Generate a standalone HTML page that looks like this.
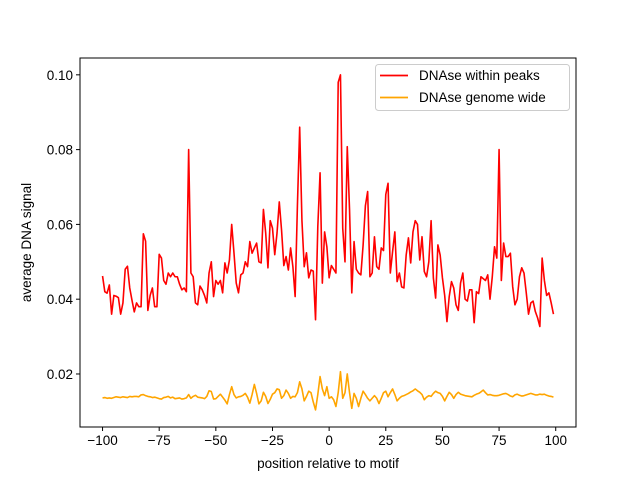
<!DOCTYPE html>
<html><head><meta charset="utf-8"><style>
body{margin:0;background:#fff}
svg{display:block;font-family:"Liberation Sans","DejaVu Sans",sans-serif}
</style></head><body>
<svg id="chart" width="640" height="480" viewBox="0 0 640 480">
<rect width="640" height="480" fill="#fff"/>
<g id="plot"></g>
<g id="axes"></g>
<rect x="80" y="58" width="496" height="369" fill="none" stroke="#000" stroke-width="1"/>
<text x="328" y="468" font-size="13.5" text-anchor="middle">position relative to motif</text>
<text transform="translate(31,242.5) rotate(-90)" font-size="13.5" text-anchor="middle">average DNA signal</text>
<g>
<rect x="375.5" y="64.5" width="194" height="46" rx="3" fill="#fff" fill-opacity="0.8" stroke="#ccc"/>
<line x1="380" y1="75.5" x2="408" y2="75.5" stroke="red" stroke-width="1.8"/>
<text x="419" y="80" font-size="13.5">DNAse within peaks</text>
<line x1="380" y1="97.5" x2="408" y2="97.5" stroke="orange" stroke-width="1.8"/>
<text x="419" y="102" font-size="13.5">DNAse genome wide</text>
</g>
</svg>
<script>
const positions = [];
for (let p = -100; p <= 99; p++) positions.push(p);
const peaksValues = [
.0462,.042,.0416,.0438,.036,.041,.0408,.0404,.036,.039,
.048,.0488,.043,.0397,.0366,.039,.038,.038,.0575,.0555,
.037,.041,.043,.038,.038,.052,.051,.045,.044,.047,
.046,.047,.046,.046,.044,.0425,.043,.042,.080,.047,
.046,.039,.0385,.0435,.0425,.041,.039,.047,.050,.0407,
.045,.044,.045,.0417,.0497,.047,.0505,.060,.0524,.0443,
.0417,.0465,.047,.050,.0487,.0554,.0523,.0537,.055,.050,
.0497,.064,.0577,.0484,.061,.059,.0519,.0577,.066,.0585,
.049,.0514,.0478,.0537,.0487,.0407,.065,.086,.061,.0487,
.0524,.0457,.0478,.0475,.0345,.0594,.0738,.0443,.058,.054,
.0457,.049,.048,.047,.098,.100,.059,.050,.0808,.064,
.0417,.0554,.048,.047,.0465,.0545,.065,.0688,.046,.047,
.0567,.0487,.048,.0537,.053,.068,.071,.047,.0527,.058,
.0447,.047,.0433,.043,.0518,.0564,.0497,.058,.061,.060,
.0505,.0567,.0474,.046,.050,.061,.0457,.0403,.0545,.0518,
.0457,.041,.034,.0407,.0447,.043,.0385,.037,.0443,.047,
.040,.0395,.0425,.0425,.0337,.042,.0415,.046,.0455,.045,
.0465,.040,.046,.054,.051,.080,.045,.055,.0514,.0514,
.0523,.0434,.0385,.040,.046,.0484,.047,.0417,.036,.039,
.0395,.0367,.035,.0327,.051,.045,.041,.0417,.039,.036
];
const genomeValues = [
.0136,.0137,.0135,.0136,.0135,.0137,.0139,.0138,.0137,.0139,
.0138,.0137,.0140,.0139,.0140,.0140,.0139,.0144,.0145,.0142,
.0140,.0139,.0137,.0138,.0136,.0134,.0133,.0137,.0138,.0140,
.0136,.0138,.0134,.0135,.0136,.0133,.0134,.0136,.0145,.0135,
.0140,.0143,.0138,.0137,.0136,.0134,.0140,.0155,.0153,.0133,
.0134,.0140,.0146,.0138,.0130,.0120,.0145,.0166,.0145,.0136,
.0139,.0140,.0143,.0148,.0138,.0122,.0145,.0172,.0148,.0120,
.0128,.0151,.0140,.0121,.0132,.0146,.0150,.0160,.0158,.0135,
.0142,.0157,.0148,.0135,.0140,.0139,.0150,.0179,.0160,.0128,
.0140,.0154,.0150,.0125,.0104,.0145,.0193,.0160,.0142,.0166,
.0135,.0139,.0131,.0113,.0150,.0206,.0135,.0150,.0200,.0150,
.0108,.0148,.0135,.0113,.0135,.0154,.0145,.0135,.0128,.0135,
.0142,.0135,.0121,.0135,.0150,.0154,.0139,.0150,.0160,.0145,
.0128,.0135,.0140,.0142,.0145,.0148,.0152,.0155,.0160,.0155,
.0151,.0145,.0131,.0138,.0142,.0140,.0148,.0154,.0150,.0148,
.0140,.0128,.0140,.0151,.0145,.0135,.0145,.0151,.0146,.0144,
.0142,.0141,.0140,.0139,.0143,.0146,.0148,.0152,.0157,.0150,
.0144,.0145,.0143,.0142,.0142,.0143,.0145,.0147,.0148,.0145,
.0141,.0139,.0144,.0146,.0143,.0141,.0142,.0144,.0146,.0148,
.0146,.0144,.0144,.0146,.0145,.0146,.0143,.0141,.0140,.0138
];
const xTicks = [-100,-75,-50,-25,0,25,50,75,100];
const yTicks = [0.02,0.04,0.06,0.08,0.10];
const yTickLabels = ["0.02","0.04","0.06","0.08","0.10"];

const X0=80,X1=576,Y0=427,Y1=58;
const xMin=-109.95,xMax=108.95,yMin=0.00582,yMax=0.1045;
function xs(v){return X0+(v-xMin)/(xMax-xMin)*(X1-X0);}
function ys(v){return Y0-(v-yMin)/(yMax-yMin)*(Y0-Y1);}
const NS="http://www.w3.org/2000/svg";
const plot=document.getElementById('plot'), axes=document.getElementById('axes');
function line(vals,color,name){
  const el=document.createElementNS(NS,'polyline');
  el.setAttribute('points',vals.map((v,i)=>xs(positions[i]).toFixed(2)+','+ys(v).toFixed(2)).join(' '));
  el.setAttribute('fill','none');el.setAttribute('stroke',color);
  el.setAttribute('stroke-width','1.6');el.setAttribute('stroke-linejoin','round');
  
  
  plot.appendChild(el);
}
line(peaksValues,'red','series-dnase-within-peaks');
line(genomeValues,'orange','series-dnase-genome-wide');
xTicks.forEach(t=>{
  const x=xs(t);
  const tk=document.createElementNS(NS,'line');
  tk.setAttribute('x1',x);tk.setAttribute('x2',x);tk.setAttribute('y1',Y0);tk.setAttribute('y2',Y0+4);
  tk.setAttribute('stroke','#000');
  
  
  axes.appendChild(tk);
  const tx=document.createElementNS(NS,'text');
  tx.setAttribute('x',x);tx.setAttribute('y',Y0+18);tx.setAttribute('font-size','13.5');tx.setAttribute('text-anchor','middle');
  tx.textContent=t<0?'\u2212'+(-t):String(t);
  
  
  axes.appendChild(tx);
});
yTicks.forEach((t,i)=>{
  const y=ys(t);
  const tk=document.createElementNS(NS,'line');
  tk.setAttribute('x1',X0-4);tk.setAttribute('x2',X0);tk.setAttribute('y1',y);tk.setAttribute('y2',y);
  tk.setAttribute('stroke','#000');
  
  
  axes.appendChild(tk);
  const tx=document.createElementNS(NS,'text');
  tx.setAttribute('x',X0-7);tx.setAttribute('y',y+5);tx.setAttribute('font-size','13.5');tx.setAttribute('text-anchor','end');
  tx.textContent=yTickLabels[i];
  
  
  axes.appendChild(tx);
});
</script>
</body></html>
